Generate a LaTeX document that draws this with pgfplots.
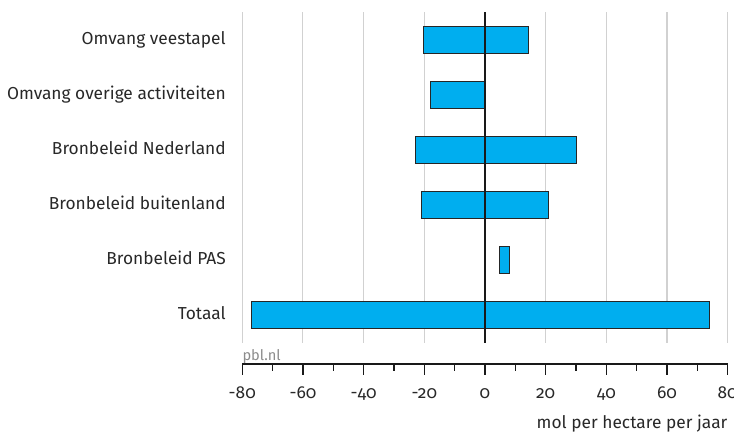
\documentclass[border=0pt]{standalone}
\usepackage{pgfplots}
\pgfplotsset{compat=1.18}
\usepackage{fontspec}
\setmainfont{Fira Sans}[Numbers=OldStyle]
\definecolor{barblue}{RGB}{0,174,239}
\definecolor{txt}{RGB}{40,40,40}
\begin{document}
\begin{tikzpicture}[font=\fontsize{13pt}{15pt}\selectfont\color{txt}]
% bars
\begin{axis}[
  at={(0,0)}, anchor=south west,
  scale only axis, width=364.05pt, height=248pt,
  xmin=-80, xmax=80, ymin=-0.5, ymax=5.5,
  xbar stacked, stack negative=on previous, bar width=20.25pt,
  axis line style={draw=none},
  xtick={-80,-60,...,80}, xticklabels={}, xtick style={draw=none},
  xmajorgrids, grid style={color=black!18, line width=0.8pt},
  ytick={0,...,5},
  yticklabels={Totaal, Bronbeleid PAS, Bronbeleid buitenland, Bronbeleid Nederland, Omvang overige activiteiten, Omvang veestapel},
  ytick style={draw=none},
  yticklabel style={anchor=east, inner sep=0pt, text height=0.689em, text depth=0pt, xshift=-12.2pt, text=txt},
]
\addplot[draw=none, fill=none] coordinates {(-77.1,0) (4.9,1) (-21.0,2) (-23.0,3) (-17.8,4) (-20.3,5)};
\addplot[fill=barblue, draw=black!85, line width=0.8pt] coordinates {(151.0,0) (3.1,1) (42.0,2) (53.2,3) (17.8,4) (34.8,5)};
\end{axis}
% zero line
\begin{axis}[
  at={(0,0)}, anchor=south west,
  scale only axis, width=364.05pt, height=248pt,
  xmin=-80, xmax=80, ymin=-0.5, ymax=5.5,
  hide axis,
]
\addplot[black!90, line width=1.7pt] coordinates {(0,-0.5) (0,5.5)};
\end{axis}
% x axis
\begin{axis}[
  at={(0,-16.2pt)}, anchor=south west,
  scale only axis, width=364.05pt, height=10pt,
  xmin=-80, xmax=80, ymin=0, ymax=1,
  axis x line*=bottom, axis y line=none,
  xtick={-80,-60,...,80}, minor x tick num=1,
  xticklabels={-80,-60,-40,-20,0,20,40,60,80},
  tick align=outside, major tick length=8pt, minor tick length=5pt,
  x axis line style={line width=1.4pt, -, black!90},
  every tick/.style={line width=0.9pt, black!90},
  xticklabel style={anchor=base, yshift=-17.3pt, text=txt},
  xlabel={mol per hectare per jaar},
  xlabel style={at={(rel axis cs:1,0)}, anchor=base east, inner sep=0pt, yshift=-48.5pt, text=txt},
  clip=false,
]
\addplot[draw=none] coordinates {(0,0.5)};
\node[anchor=base west, inner sep=0pt, font=\fontsize{11pt}{13pt}\selectfont, text=black!45] at (rel axis cs:0,0) [yshift=2.7pt] {pbl.nl};
\end{axis}
\pgfresetboundingbox
\path (-181.7pt,-69.2pt) rectangle (368.8pt,257pt);
\end{tikzpicture}
\end{document}
